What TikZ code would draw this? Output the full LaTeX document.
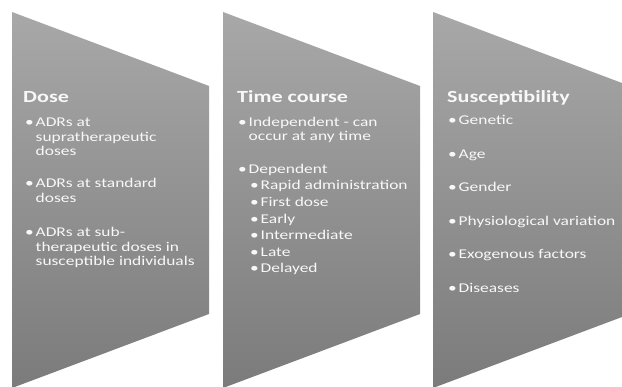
\documentclass[tikz,border=0pt]{standalone}
\usepackage{fontspec}
\setmainfont{Carlito}[FakeStretch=1.3]

\definecolor{paneltop}{RGB}{168,168,168}
\definecolor{panelbot}{RGB}{123,123,123}
\definecolor{paneltext}{RGB}{248,248,248}

\tikzstyle{panel}=[top color=paneltop, bottom color=panelbot, draw=none]
\tikzstyle{heading}=[anchor=base west, inner sep=0pt, text=paneltext, font=\fontsize{17}{20}\selectfont\bfseries]
\tikzstyle{entry}=[anchor=base west, inner sep=0pt, align=left, text=paneltext, font=\fontsize{13.4}{14.5}\selectfont]

\newcommand{\bul}{\makebox[10.5pt][l]{•}}
\newcommand{\hang}{\hspace*{10.5pt}}

\begin{document}
\begin{tikzpicture}[x=1pt, y=-1pt]
  \useasboundingbox (0,0) rectangle (622,387);

  % Panels
  \path[panel] (12,12) -- (209,86) -- (209,314) -- (12,388) -- cycle;
  \path[panel] (223,12) -- (420,86) -- (420,314) -- (223,388) -- cycle;
  \path[panel] (433,12) -- (622,83) -- (622,317) -- (433,388) -- cycle;

  % Dose (multi-line entries sit on their last line)
  \node (dose) [heading] at (23,103) {Dose};
  \node (dosea) [entry] at (25,156) {\bul ADRs at\\\hang supratherapeutic\\\hang doses};
  \node (doseb) [entry] at (25,202.5) {\bul ADRs at standard\\\hang doses};
  \node (dosec) [entry] at (25,266) {\bul ADRs at sub-\\\hang therapeutic doses in\\\hang susceptible individuals};

  % Time course
  \node (time) [heading] at (237,103) {Time course};
  \node (timea) [entry] at (238,141) {\bul Independent - can\\\hang occur at any time};
  \node (timeb) [entry] at (238,174) {\bul Dependent};
  \node (rapid) [entry] at (250,190) {\bul Rapid administration};
  \node (first) [entry] at (250,206.6) {\bul First dose};
  \node (early) [entry] at (250,223.2) {\bul Early};
  \node (inter) [entry] at (250,239.8) {\bul Intermediate};
  \node (late) [entry] at (250,256.4) {\bul Late};
  \node (delay) [entry] at (250,273) {\bul Delayed};

  % Susceptibility
  \node (susc) [heading] at (447,103) {Susceptibility};
  \node (gene) [entry] at (448,125) {\bul Genetic};
  \node (age) [entry] at (448,158.5) {\bul Age};
  \node (gender) [entry] at (448,192) {\bul Gender};
  \node (physio) [entry] at (448,225.5) {\bul Physiological variation};
  \node (exo) [entry] at (448,259) {\bul Exogenous factors};
  \node (dis) [entry] at (448,292.5) {\bul Diseases};
\end{tikzpicture}
\end{document}
